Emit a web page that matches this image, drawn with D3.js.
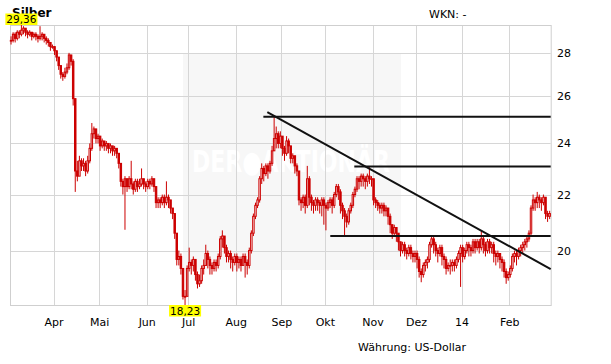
<!DOCTYPE html>
<html>
<head>
<meta charset="utf-8">
<script src="https://cdn.jsdelivr.net/npm/d3@7"></script>
<style>
  body { margin: 0; background: #fff; }
  text { font-family: "DejaVu Sans", Verdana, sans-serif; }
</style>
</head>
<body>
<svg id="chart" width="611" height="364"></svg>
<script>
// daily silver prices, weekdays from 1 Mar 2013 to 28 Feb 2014 (USD)
const close = [
  28.6, 28.9, 28.7, 29.0, 28.9, 29.1, 29.2, 29.0, 28.9, 29.0, 28.8, 28.9, 28.8, 28.7, 28.8, 28.9, 28.7, 28.6, 28.5, 28.3, 28.3,
  28.1, 27.8, 27.4, 27.0, 26.9, 27.1, 27.3, 27.9, 27.6, 25.9, 22.9, 22.7, 23.3, 23.1, 23.2, 22.9, 23.3, 23.8, 24.4, 24.6, 24.2, 24.3,
  23.9, 24.1, 23.9, 24.0, 23.8, 23.9, 23.7, 23.8, 23.6, 23.2, 22.5, 22.3, 22.6, 22.3, 22.6, 22.4, 22.2, 22.5, 22.3, 22.4, 22.6, 22.4, 22.3,
  22.5, 22.4, 22.6, 22.3, 21.7, 21.8, 21.7, 21.9, 21.7, 21.9, 21.8, 21.5, 21.3, 20.6, 19.7, 19.8, 19.4, 18.5, 18.5, 19.4,
  19.6, 19.5, 19.7, 19.2, 18.9, 19.0, 19.4, 19.5, 19.9, 19.7, 19.5, 19.4, 19.6, 19.5, 19.8, 20.4, 20.5, 20.1, 19.8, 19.9, 19.7, 19.6, 19.8,
  19.6, 19.7, 19.5, 19.8, 19.6, 19.5, 20.0, 20.6, 21.2, 21.6, 21.8, 22.6, 23.0, 22.8, 23.1, 22.9, 23.2, 23.7, 24.2, 24.4, 24.0, 24.3,
  23.8, 23.6, 24.1, 23.9, 23.4, 23.5, 23.1, 22.9, 21.8, 21.7, 21.9, 21.6, 22.6, 21.9, 21.7, 21.6, 21.8, 21.7, 21.6, 21.8, 21.6,
  21.5, 21.7, 21.8, 21.6, 22.0, 22.3, 22.1, 21.6, 21.4, 21.2, 21.0, 21.4, 21.6, 22.0, 22.2, 22.6, 22.5, 22.7, 22.6, 22.5, 22.7, 22.6, 22.6,
  21.8, 21.7, 21.6, 21.5, 21.6, 21.4, 21.5, 21.2, 20.9, 20.6, 20.8, 20.6, 20.3, 20.0, 20.2, 20.0, 19.9, 20.1, 19.9, 19.8, 19.9,
  19.7, 19.3, 19.2, 19.5, 19.6, 19.7, 20.2, 20.4, 20.2, 20.0, 19.9, 20.1, 19.8, 19.7, 19.4, 19.5, 19.5, 19.6, 19.5, 19.7, 19.9, 20.1,
  19.8, 20.0, 20.2, 20.1, 20.0, 20.3, 20.1, 20.3, 20.1, 20.4, 20.2, 20.0, 20.3, 20.1, 20.2, 19.9, 19.8, 19.9, 19.7, 19.6, 19.3, 19.1, 19.2,
  19.4, 19.8, 19.9, 19.8, 20.0, 20.1, 20.2, 20.3, 20.4, 20.6, 21.5, 21.8, 21.7, 21.9, 21.8, 21.7, 21.9, 21.3, 21.2, 21.3
];
const high = [
  28.8, 29.0, 29.0, 29.1, 29.1, 29.36, 29.3, 29.2, 29.1, 29.1, 29.0, 29.0, 29.0, 28.9, 29.3, 29.0, 28.9, 28.8, 28.7, 28.5, 28.4,
  28.3, 28.1, 27.8, 27.4, 27.1, 27.3, 27.5, 28.0, 27.9, 27.7, 25.9, 23.3, 23.5, 23.4, 23.4, 23.3, 23.5, 24.0, 24.85, 24.7, 24.6, 24.4,
  24.3, 24.2, 24.1, 24.1, 24.0, 24.0, 23.9, 23.9, 23.8, 23.6, 23.2, 22.6, 22.7, 22.6, 22.7, 23.3, 22.5, 22.6, 22.6, 22.6, 23.0, 22.6, 22.5,
  22.6, 22.6, 22.7, 22.6, 22.3, 21.9, 21.9, 22.0, 22.0, 22.5, 22.0, 21.8, 21.5, 21.3, 20.6, 20.0, 19.9, 19.4, 18.7, 19.5,
  20.1, 19.7, 19.8, 19.7, 19.3, 19.2, 19.5, 19.7, 20.2, 20.0, 19.8, 19.6, 19.7, 19.7, 19.9, 20.5, 20.7, 20.5, 20.2, 20.0, 20.0, 19.8, 19.9,
  19.9, 19.8, 19.8, 19.9, 19.9, 19.7, 20.1, 20.7, 21.3, 21.7, 21.9, 22.7, 23.2, 23.1, 23.2, 23.2, 23.3, 23.9, 25.13, 24.7, 24.5, 24.5,
  24.3, 23.9, 24.3, 24.2, 23.9, 23.6, 23.5, 23.2, 22.9, 21.9, 22.0, 22.0, 23.1, 22.7, 22.0, 21.8, 21.9, 21.9, 21.8, 21.9, 21.9,
  21.7, 21.8, 21.9, 21.9, 22.1, 22.4, 22.4, 22.2, 21.7, 21.5, 21.3, 21.5, 21.7, 22.1, 22.3, 22.7, 22.7, 22.8, 22.8, 22.7, 22.8, 23.05, 22.7,
  22.6, 21.9, 21.8, 21.7, 21.7, 21.7, 21.6, 21.5, 21.3, 20.9, 20.9, 20.8, 20.6, 20.3, 20.3, 20.3, 20.1, 20.2, 20.2, 20.0, 20.0,
  20.0, 19.8, 19.4, 19.6, 19.7, 19.8, 20.3, 20.5, 20.5, 20.3, 20.1, 20.2, 20.2, 19.9, 19.8, 19.6, 19.7, 19.7, 19.7, 19.8, 20.0, 20.2,
  20.2, 20.1, 20.3, 20.3, 20.2, 20.4, 20.4, 20.4, 20.4, 20.7, 20.5, 20.3, 20.4, 20.4, 20.3, 20.3, 20.0, 20.0, 19.9, 19.8, 19.7, 19.4, 19.3,
  19.5, 19.9, 20.0, 20.0, 20.1, 20.2, 20.3, 20.4, 20.5, 20.7, 21.6, 22.0, 21.9, 22.1, 22.0, 21.9, 22.0, 21.9, 21.4, 21.4
];
const low = [
  28.4, 28.5, 28.5, 28.6, 28.7, 28.8, 28.9, 28.8, 28.7, 28.8, 28.6, 28.7, 28.6, 28.5, 28.6, 28.6, 28.5, 28.4, 28.3, 28.1, 28.2,
  27.9, 27.6, 27.2, 26.8, 26.7, 26.8, 27.0, 27.2, 27.4, 25.6, 22.1, 22.5, 22.7, 22.9, 22.9, 22.7, 22.8, 23.2, 23.7, 24.2, 24.0, 24.0,
  23.7, 23.8, 23.7, 23.7, 23.6, 23.6, 23.5, 23.5, 23.4, 23.0, 22.3, 22.0, 20.72, 22.1, 22.2, 22.2, 22.0, 22.1, 22.1, 22.2, 22.3, 22.2, 22.1,
  22.2, 22.2, 22.3, 22.1, 21.5, 21.5, 21.5, 21.6, 21.5, 21.6, 21.5, 21.3, 21.1, 20.4, 19.5, 19.5, 19.2, 18.4, 18.23, 18.8,
  19.3, 19.2, 19.3, 19.0, 18.75, 18.8, 18.9, 19.2, 19.5, 19.4, 19.2, 19.2, 19.3, 19.3, 19.4, 19.7, 20.1, 19.9, 19.6, 19.6, 19.4, 19.3, 19.5,
  19.3, 19.4, 19.3, 19.5, 19.1, 19.2, 19.4, 19.9, 20.5, 21.1, 21.5, 21.7, 22.4, 22.5, 22.7, 22.6, 22.8, 23.1, 23.9, 23.8, 23.8, 23.8,
  23.5, 23.3, 23.5, 23.6, 23.2, 23.2, 22.8, 22.7, 21.6, 21.4, 21.5, 21.3, 21.5, 21.6, 21.4, 21.3, 21.4, 21.4, 21.3, 21.2, 20.9,
  20.7, 21.4, 21.5, 21.3, 21.5, 21.9, 21.8, 21.3, 21.1, 20.5, 20.8, 20.9, 21.3, 21.5, 21.9, 22.1, 22.2, 22.3, 22.3, 22.2, 22.3, 22.4, 22.3,
  21.6, 21.5, 21.4, 21.3, 21.3, 21.2, 21.2, 20.9, 20.6, 20.4, 20.5, 20.3, 20.0, 19.8, 19.9, 19.8, 19.7, 19.8, 19.7, 19.6, 19.6,
  19.4, 19.1, 18.95, 19.1, 19.3, 19.4, 19.6, 20.1, 19.9, 19.8, 19.6, 19.8, 19.5, 19.4, 19.2, 19.3, 19.2, 19.3, 19.3, 19.4, 19.6, 18.8,
  19.6, 19.7, 19.9, 19.8, 19.8, 19.9, 19.9, 20.0, 19.9, 20.0, 19.9, 19.8, 19.9, 19.9, 19.9, 19.6, 19.5, 19.6, 19.4, 19.3, 19.1, 18.9, 19.0,
  19.1, 19.3, 19.6, 19.5, 19.7, 19.8, 19.9, 20.0, 20.1, 20.3, 20.5, 21.4, 21.4, 21.5, 21.5, 21.4, 21.6, 21.1, 21.0, 21.1
];

const monthLabels = ["Apr", "Mai", "Jun", "Jul", "Aug", "Sep", "Okt", "Nov", "Dez", "14", "Feb"];
const yTicks = [20, 22, 24, 26, 28];

// drawn support / resistance lines: [start day, level]
const levels = [[122.3, 25.11], [166.2, 23.08], [154.6, 20.5]];
const trendFrom = [124.2, 25.31];
const trendTo = [261, 19.38];

const svg = d3.select("#chart");
const plotLeft = 10, plotRight = 550.7, plotTop = 25, plotBottom = 305;
const red = "#cc0000", grid = "#d6d6d6";

const days = d3.timeDay.range(new Date(2013, 2, 1), new Date(2014, 2, 1))
  .filter(d => d.getDay() !== 0 && d.getDay() !== 6);
const monthStarts = days.map((d, i) => i)
  .filter(i => i > 0 && days[i].getMonth() !== days[i - 1].getMonth());

const x = d3.scaleLinear().domain([0, days.length]).range([plotLeft, plotRight]);
const bw = x(1) - x(0);
const y = d3.scaleLog().domain([d3.min(low), d3.max(high)]).range([plotBottom, plotTop]);

// watermark panel
svg.append("rect")
  .attr("x", 183).attr("y", 53).attr("width", 218).attr("height", 217)
  .attr("fill", "#f7f7f7");
svg.append("text")
  .attr("x", 192).attr("y", 172)
  .attr("textLength", 198).attr("lengthAdjust", "spacingAndGlyphs")
  .attr("font-size", 30).attr("font-weight", "bold")
  .attr("fill", "#fff")
  .text("DER\u25CFAKTIONÄR");

// grid
const g = svg.append("g");
g.selectAll(".hgrid").data(yTicks).enter().append("line")
  .attr("x1", plotLeft).attr("x2", plotRight)
  .attr("y1", d => Math.round(y(d)) + 0.5).attr("y2", d => Math.round(y(d)) + 0.5)
  .attr("stroke", grid);
g.selectAll(".vgrid").data(monthStarts).enter().append("line")
  .attr("x1", d => Math.round(x(d)) + 0.5).attr("x2", d => Math.round(x(d)) + 0.5)
  .attr("y1", plotTop).attr("y2", plotBottom)
  .attr("stroke", grid);
g.append("rect")
  .attr("x", plotLeft + 0.5).attr("y", plotTop + 0.5)
  .attr("width", plotRight - plotLeft).attr("height", plotBottom - plotTop)
  .attr("fill", "none").attr("stroke", "#cfcfcf");

// axis labels
svg.selectAll(".ylab").data(yTicks).enter().append("text")
  .attr("x", 557).attr("y", d => y(d) + 4)
  .attr("font-size", 11).attr("fill", "#000")
  .text(d => d);
svg.selectAll(".xlab").data(monthStarts).enter().append("text")
  .attr("x", d => x(d) + 0.5).attr("y", 326)
  .attr("text-anchor", "middle")
  .attr("font-size", 11).attr("fill", "#000")
  .text((d, k) => monthLabels[k]);

// candles
const bars = close.map((c, i) => {
  const o = i ? close[i - 1] : c;
  return { i, o, c, h: Math.max(high[i], o, c), l: Math.min(low[i], o, c) };
});
const cg = svg.append("g");
cg.selectAll(".wick").data(bars).enter().append("line")
  .attr("x1", d => x(d.i) + bw / 2).attr("x2", d => x(d.i) + bw / 2)
  .attr("y1", d => y(d.h)).attr("y2", d => y(d.l))
  .attr("stroke", red).attr("stroke-width", 1);
cg.selectAll(".body").data(bars).enter().append("rect")
  .attr("x", d => x(d.i) + 0.3)
  .attr("width", bw - 0.6)
  .attr("y", d => y(Math.max(d.o, d.c)))
  .attr("height", d => Math.max(0.8, Math.abs(y(d.o) - y(d.c))))
  .attr("fill", d => d.c < d.o ? red : "#fff")
  .attr("stroke", red).attr("stroke-width", 1);

// support / resistance / trend lines
svg.selectAll(".lvl").data(levels).enter().append("line")
  .attr("x1", d => x(d[0])).attr("x2", plotRight)
  .attr("y1", d => y(d[1])).attr("y2", d => y(d[1]))
  .attr("stroke", "#111").attr("stroke-width", 2);
svg.append("line")
  .attr("x1", x(trendFrom[0])).attr("y1", y(trendFrom[1]))
  .attr("x2", x(trendTo[0])).attr("y2", y(trendTo[1]))
  .attr("stroke", "#111").attr("stroke-width", 2);

// titles
svg.append("text").attr("x", 12).attr("y", 17)
  .attr("font-size", 12).attr("font-weight", "bold").text("Silber");
svg.append("text").attr("x", 429).attr("y", 18)
  .attr("font-size", 11).text("WKN: -");
svg.append("text").attr("x", 358).attr("y", 351)
  .attr("font-size", 11).text("Währung: US-Dollar");

// min / max markers (drawn over the title, as in the source chart)
const fmt = v => d3.format(".2f")(v).replace(".", ",");
function marker(idx, val, yTop) {
  const cx = x(idx) + bw / 2;
  const t = svg.append("text")
    .attr("x", cx).attr("y", yTop + 9.5)
    .attr("text-anchor", "middle").attr("font-size", 10.5)
    .text(fmt(val));
  const w = t.node().getComputedTextLength() + 2;
  svg.insert("rect", () => t.node())
    .attr("x", cx - w / 2).attr("y", yTop)
    .attr("width", w).attr("height", 11.5)
    .attr("fill", "#ffff00");
}
const hiIdx = d3.maxIndex(high), loIdx = d3.minIndex(low);
marker(hiIdx, high[hiIdx], plotTop - 11.5);
marker(loIdx, low[loIdx], plotBottom);
</script>
</body>
</html>
